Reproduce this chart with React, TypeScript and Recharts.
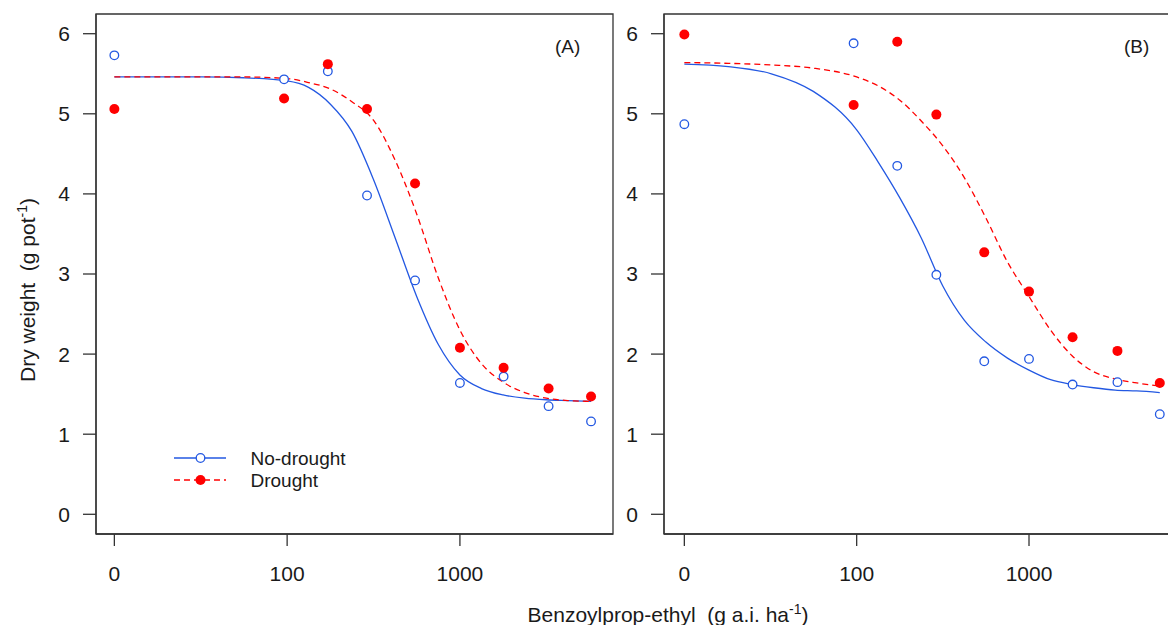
import { ComposedChart, Legend, Line, ReferenceArea, Scatter, XAxis, YAxis } from "recharts";

// observed doses (g a.i. ha-1); 0 is the untreated control
const doses = [0, 96, 172, 290, 550, 1000, 1790, 3260, 5740];

const noDroughtA = [5.73, 5.43, 5.53, 3.98, 2.92, 1.64, 1.72, 1.35, 1.16];
const droughtA = [5.06, 5.19, 5.62, 5.06, 4.13, 2.08, 1.83, 1.57, 1.47];
const noDroughtB = [4.87, 5.88, 4.35, 2.99, 1.91, 1.94, 1.62, 1.65, 1.25];
const droughtB = [5.99, 5.11, 5.9, 4.99, 3.27, 2.78, 2.21, 2.04, 1.64];

// fitted dose-response curves
const curveDoses = [
  0, 18, 32, 56, 100, 133, 178, 237, 316, 422, 562, 750, 1000, 1334, 1778,
  2371, 3162, 4217, 5740,
];
const fitNoDroughtA = [
  5.46, 5.46, 5.46, 5.45, 5.41, 5.33, 5.12, 4.78, 4.18, 3.45, 2.72, 2.12, 1.74,
  1.57, 1.49, 1.45, 1.43, 1.42, 1.41,
];
const fitDroughtA = [
  5.46, 5.46, 5.46, 5.46, 5.44, 5.39, 5.31, 5.15, 4.92, 4.42, 3.75, 2.95, 2.3,
  1.88, 1.65, 1.52, 1.45, 1.42, 1.41,
];
const fitNoDroughtB = [
  5.62, 5.59, 5.5, 5.28, 4.8, 4.4, 3.95, 3.45, 2.85, 2.42, 2.15, 1.95, 1.8,
  1.68, 1.62, 1.58, 1.55, 1.54, 1.52,
];
const fitDroughtB = [
  5.64, 5.63, 5.61, 5.57, 5.46, 5.35, 5.17, 4.91, 4.6, 4.2, 3.7, 3.15, 2.72,
  2.3, 1.98, 1.78, 1.69, 1.64, 1.6,
];

const xTickLabels = [0, 100, 1000];
const yTicks = [0, 1, 2, 3, 4, 5, 6];
const yDomain: [number, number] = [-0.246, 6.246];

const ZERO_AT = 10; // the control is drawn one decade below 100
const BLUE = "#2358e2";
const RED = "#ff0000";
const AXIS = "#333333";
const TEXT = "#1a1a1a";
const FONT = '"Liberation Sans", Arial, sans-serif';

const toPoints = (xs: number[], ys: number[]) =>
  xs.map((d, i) => ({ x: d === 0 ? ZERO_AT : d, y: ys[i] }));

const xTickPos = xTickLabels.map((d) => (d === 0 ? ZERO_AT : d));

const OpenCircle = (props: any) => (
  <circle cx={props.cx} cy={props.cy} r={4.3} fill="#fff" stroke={BLUE} strokeWidth={1.3} />
);

const FilledDot = (props: any) => (
  <circle cx={props.cx} cy={props.cy} r={5} fill={RED} />
);

const LegendBox = () => (
  <svg width={200} height={50} style={{ fontFamily: FONT }}>
    <line x1={4} x2={56} y1={13} y2={13} stroke={BLUE} strokeWidth={1.3} />
    <circle cx={30.5} cy={13} r={4.3} fill="#fff" stroke={BLUE} strokeWidth={1.3} />
    <text x={80.5} y={13} dominantBaseline="central" fontSize={19} fill={TEXT}>
      No-drought
    </text>
    <line x1={4} x2={56} y1={35} y2={35} stroke={RED} strokeWidth={1.3} strokeDasharray="6 4" />
    <circle cx={30.5} cy={35} r={5} fill={RED} />
    <text x={80.5} y={35} dominantBaseline="central" fontSize={19} fill={TEXT}>
      Drought
    </text>
  </svg>
);

type PanelProps = {
  obsNo: number[];
  obsDr: number[];
  fitNo: number[];
  fitDr: number[];
  xDomain: [number, number];
  showLegend?: boolean;
};

function Panel({ obsNo, obsDr, fitNo, fitDr, xDomain, showLegend }: PanelProps) {
  return (
    <ComposedChart
      width={640}
      height={600}
      margin={{ top: 14, right: 27, bottom: 0, left: 0 }}
      style={{ fontFamily: FONT }}
    >
      <XAxis
        dataKey="x"
        type="number"
        scale="log"
        domain={xDomain}
        allowDataOverflow
        ticks={xTickPos}
        interval={0}
        tickFormatter={(v: number) => (v === ZERO_AT ? "0" : String(v))}
        height={66}
        tickSize={12}
        tickMargin={20}
        stroke={AXIS}
        strokeWidth={1.3}
        tick={{ fill: TEXT, fontSize: 21 }}
      />
      <YAxis
        dataKey="y"
        type="number"
        domain={yDomain}
        allowDataOverflow
        ticks={yTicks}
        interval={0}
        width={96}
        tickSize={13}
        tickMargin={13}
        stroke={AXIS}
        strokeWidth={1.3}
        tick={{ fill: TEXT, fontSize: 21 }}
      />
      {/* box round the plot region */}
      <ReferenceArea
        x1={xDomain[0]}
        x2={xDomain[1]}
        y1={yDomain[0]}
        y2={yDomain[1]}
        ifOverflow="visible"
        fill="none"
        fillOpacity={0}
        stroke={AXIS}
        strokeWidth={1.3}
      />
      <Line
        data={toPoints(curveDoses, fitNo)}
        dataKey="y"
        type="monotone"
        stroke={BLUE}
        strokeWidth={1.3}
        dot={false}
        activeDot={false}
        isAnimationActive={false}
      />
      <Line
        data={toPoints(curveDoses, fitDr)}
        dataKey="y"
        type="monotone"
        stroke={RED}
        strokeWidth={1.3}
        strokeDasharray="6 4"
        dot={false}
        activeDot={false}
        isAnimationActive={false}
      />
      <Scatter data={toPoints(doses, obsNo)} dataKey="y" shape={OpenCircle} isAnimationActive={false} />
      <Scatter data={toPoints(doses, obsDr)} dataKey="y" shape={FilledDot} isAnimationActive={false} />
      {showLegend && (
        <Legend
          layout="horizontal"
          verticalAlign="middle"
          align="center"
          content={() => <LegendBox />}
          wrapperStyle={{ left: 170, top: 445, width: 200, height: 50 }}
        />
      )}
    </ComposedChart>
  );
}

const tag = (left: number): React.CSSProperties => ({
  position: "absolute",
  left,
  top: 37,
  fontSize: 19,
  lineHeight: "19px",
  color: TEXT,
});

export default function App() {
  return (
    <div
      style={{
        position: "absolute",
        left: 0,
        top: 0,
        width: 1168,
        height: 625,
        overflow: "hidden",
        background: "#fff",
        fontFamily: FONT,
      }}
    >
      <div style={{ position: "absolute", left: 0, top: 0 }}>
        <Panel
          obsNo={noDroughtA}
          obsDr={droughtA}
          fitNo={fitNoDroughtA}
          fitDr={fitDroughtA}
          xDomain={[7.83, 7691]}
          showLegend
        />
      </div>
      <div style={{ position: "absolute", left: 568, top: 0 }}>
        <Panel
          obsNo={noDroughtB}
          obsDr={droughtB}
          fitNo={fitNoDroughtB}
          fitDr={fitDroughtB}
          xDomain={[7.62, 7621]}
        />
      </div>
      <div style={tag(555)}>(A)</div>
      <div style={tag(1124)}>(B)</div>
      <div
        style={{
          position: "absolute",
          left: 25 - 150,
          top: 287.5 - 10.5,
          width: 300,
          lineHeight: "21px",
          fontSize: 21,
          textAlign: "center",
          color: TEXT,
          transform: "rotate(-90deg)",
          whiteSpace: "nowrap",
        }}
      >
        Dry weight&nbsp; (g pot<sup style={{ fontSize: 14, verticalAlign: "8px" }}>-1</sup>)
      </div>
      <div
        style={{
          position: "absolute",
          left: 668 - 200,
          top: 599,
          width: 400,
          lineHeight: "21px",
          fontSize: 21,
          textAlign: "center",
          color: TEXT,
          whiteSpace: "nowrap",
        }}
      >
        Benzoylprop-ethyl&nbsp; (g a.i. ha<sup style={{ fontSize: 14, verticalAlign: "8px" }}>-1</sup>)
      </div>
    </div>
  );
}
